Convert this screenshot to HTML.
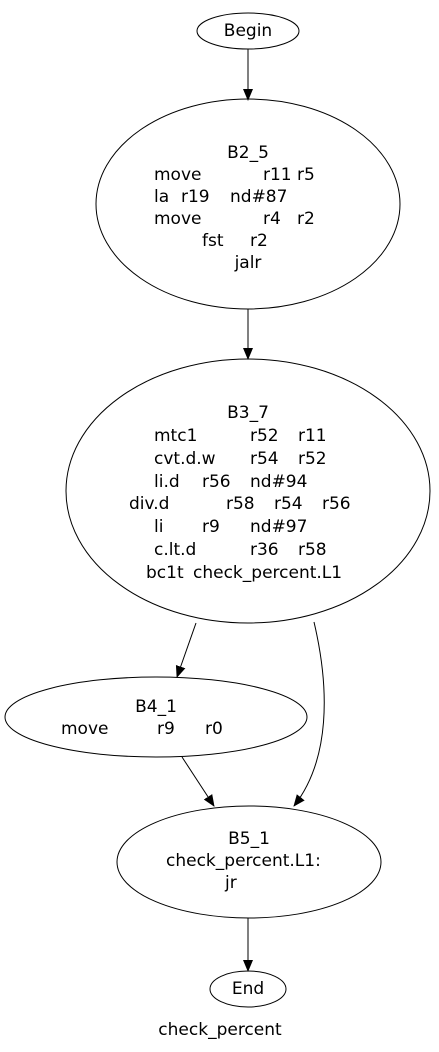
<!DOCTYPE html>
<html><head><style>body{margin:0;background:#fff}svg{display:block}text{font-family:"DejaVu Sans","Liberation Sans",sans-serif;font-size:17px;fill:#000}</style></head>
<body>
<svg width="439" height="1052" viewBox="0 0 439 1052">
<defs><marker id="a" markerWidth="12" markerHeight="12" refX="11" refY="6" orient="auto" markerUnits="userSpaceOnUse"><path d="M0,1 L12,6 L0,11z" fill="#000"/></marker></defs>
<g fill="none" stroke="#000" stroke-width="1">
<ellipse cx="248" cy="31" rx="51" ry="18"/>
<ellipse cx="248" cy="204" rx="152" ry="105"/>
<ellipse cx="248" cy="491" rx="182" ry="132"/>
<ellipse cx="156" cy="717" rx="151" ry="40"/>
<ellipse cx="249" cy="862" rx="132" ry="56"/>
<ellipse cx="248" cy="989" rx="38" ry="18"/>
<path d="M248,49 L248,100" marker-end="url(#a)"/>
<path d="M248,309 L248,359" marker-end="url(#a)"/>
<path d="M196,623 L177,677" marker-end="url(#a)"/>
<path d="M314,622 C330,690 330,760 294,806" marker-end="url(#a)"/>
<path d="M182,757 L214,806" marker-end="url(#a)"/>
<path d="M248,918 L248,971" marker-end="url(#a)"/>
</g>
<text x="248" y="36" text-anchor="middle">Begin</text>
<text x="248" y="158" text-anchor="middle">B2_5</text>
<text x="154" y="180">move</text><text x="263" y="180">r11</text><text x="297" y="180">r5</text>
<text x="154" y="202">la</text><text x="181" y="202">r19</text><text x="230" y="202">nd#87</text>
<text x="154" y="224">move</text><text x="263" y="224">r4</text><text x="297" y="224">r2</text>
<text x="202" y="246">fst</text><text x="250" y="246">r2</text>
<text x="248" y="268" text-anchor="middle">jalr</text>
<text x="248" y="418" text-anchor="middle">B3_7</text>
<text x="154" y="441">mtc1</text><text x="250" y="441">r52</text><text x="298" y="441">r11</text>
<text x="154" y="464">cvt.d.w</text><text x="250" y="464">r54</text><text x="298" y="464">r52</text>
<text x="154" y="487">li.d</text><text x="202" y="487">r56</text><text x="250" y="487">nd#94</text>
<text x="129" y="509">div.d</text><text x="226" y="509">r58</text><text x="274" y="509">r54</text><text x="322" y="509">r56</text>
<text x="154" y="532">li</text><text x="202" y="532">r9</text><text x="250" y="532">nd#97</text>
<text x="154" y="555">c.lt.d</text><text x="250" y="555">r36</text><text x="298" y="555">r58</text>
<text x="146" y="578">bc1t</text><text x="193" y="578">check_percent.L1</text>
<text x="156" y="712" text-anchor="middle">B4_1</text>
<text x="61" y="734">move</text><text x="157" y="734">r9</text><text x="205" y="734">r0</text>
<text x="249" y="844" text-anchor="middle">B5_1</text>
<text x="166" y="866">check_percent.L1:</text>
<text x="225" y="888">jr</text>
<text x="248" y="994" text-anchor="middle">End</text>
<text x="220" y="1035" text-anchor="middle">check_percent</text>
</svg>
</body></html>
